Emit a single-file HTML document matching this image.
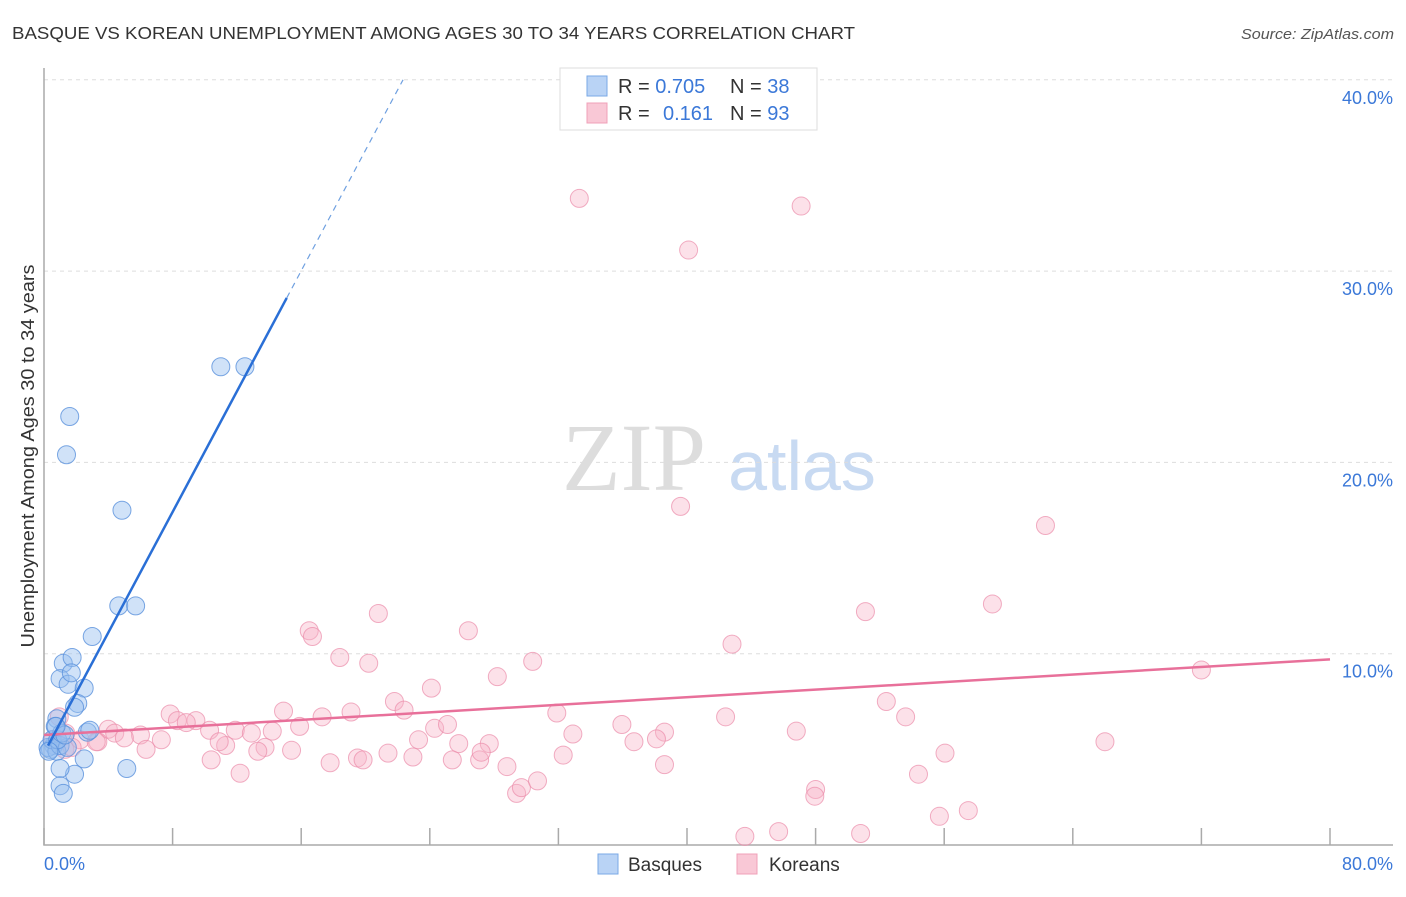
<!DOCTYPE html>
<html><head><meta charset="utf-8"><style>
body{margin:0;background:#fff;font-family:"Liberation Sans",sans-serif;}
</style></head><body>
<svg id="chart" width="1406" height="892" xmlns="http://www.w3.org/2000/svg" style="font-family:'Liberation Sans',sans-serif">
<text x="12" y="39" font-size="17.5" fill="#333" textLength="843" lengthAdjust="spacingAndGlyphs">BASQUE VS KOREAN UNEMPLOYMENT AMONG AGES 30 TO 34 YEARS CORRELATION CHART</text>
<text x="1394" y="39" font-size="15" fill="#555" font-style="italic" text-anchor="end" textLength="153" lengthAdjust="spacingAndGlyphs">Source: ZipAtlas.com</text>
<text transform="translate(34,456) rotate(-90)" font-size="18" fill="#333" text-anchor="middle" textLength="383" lengthAdjust="spacingAndGlyphs">Unemployment Among Ages 30 to 34 years</text>
<g><text x="634" y="490" font-size="96" font-family="'Liberation Serif',serif" fill="#ddd" text-anchor="middle">ZIP</text><text x="802" y="490" font-size="70" fill="#c8daf2" text-anchor="middle">atlas</text></g>
<g id="grid"></g><g id="axes"></g><g id="marks"></g>
<g>
<rect x="560" y="68" width="257" height="62" fill="#fff" stroke="#ddd"/>
<rect x="587" y="76" width="20" height="20" fill="#b9d3f5" stroke="#7aa8e6"/>
<rect x="587" y="103" width="20" height="20" fill="#f9c8d6" stroke="#f0a0b8"/>
<text x="618" y="93" font-size="20" fill="#333">R = <tspan fill="#3b78d8">0.705</tspan><tspan x="730">N = </tspan><tspan fill="#3b78d8">38</tspan></text>
<text x="618" y="120" font-size="20" fill="#333">R = <tspan x="663" fill="#3b78d8">0.161</tspan><tspan x="730">N = </tspan><tspan fill="#3b78d8">93</tspan></text>
</g>
<g>
<rect x="598" y="854" width="20" height="20" fill="#b9d3f5" stroke="#7aa8e6"/>
<text x="628" y="871" font-size="19" fill="#333">Basques</text>
<rect x="737" y="854" width="20" height="20" fill="#f9c8d6" stroke="#f0a0b8"/>
<text x="769" y="871" font-size="19" fill="#333">Koreans</text>
</g>
</svg>
<script>
const yTicks=[10,20,30,40];
const yTickLabels=["10.0%","20.0%","30.0%","40.0%"];
const xTicks=[0,8,16,24,32,40,48,56,64,72,80];
const basqueX=[11.0,12.5,1.6,1.4,4.85,4.65,5.7,3.0,1.2,1.75,1.0,1.5,2.5,1.7,2.1,1.9,0.8,0.7,2.7,2.85,0.6,0.4,0.25,0.8,0.5,1.0,1.45,2.5,1.9,5.15,1.0,1.0,1.2,0.85,1.1,1.3,0.3,0.75];
const basqueY=[25.0,25.0,22.4,20.4,17.5,12.5,12.5,10.9,9.5,9.8,8.7,8.4,8.2,9.0,7.4,7.2,6.6,6.2,5.9,6.0,5.2,5.0,5.1,4.9,5.5,5.2,5.1,4.5,3.7,4.0,4.0,3.1,2.7,5.5,5.85,5.75,4.9,6.2];
const koreanX=[33.3,40.1,47.1,39.6,62.3,59.0,51.1,20.8,16.5,16.7,26.4,42.8,18.4,20.2,30.4,72.0,28.2,24.1,21.8,22.4,31.9,42.4,52.4,53.6,14.9,17.3,19.1,7.85,8.3,9.45,8.85,10.3,11.9,12.9,14.2,15.9,24.3,25.1,35.95,38.6,46.8,32.9,27.7,25.8,23.3,13.75,11.3,10.9,7.3,6.0,4.0,4.4,5.0,6.35,3.35,2.25,1.35,0.85,1.3,10.4,12.2,13.3,15.4,17.8,19.5,19.85,21.4,22.95,25.4,27.1,27.2,28.8,29.4,29.7,30.7,32.3,36.7,38.1,38.6,43.6,45.7,48.0,47.95,50.8,54.4,55.7,57.5,56.05,66.0,0.95,0.55,1.75,3.25];
const koreanY=[33.8,31.1,33.4,17.7,16.7,12.6,12.2,12.1,11.2,10.9,11.2,10.5,9.8,9.5,9.6,9.15,8.8,8.2,7.5,7.05,6.9,6.7,7.5,6.7,7.0,6.7,6.95,6.85,6.5,6.5,6.4,6.0,6.0,5.85,5.95,6.2,6.1,6.3,6.3,5.9,5.95,5.8,5.3,5.3,5.5,5.1,5.2,5.4,5.5,5.75,6.05,5.85,5.6,5.0,5.4,5.5,5.85,5.5,5.0,4.45,3.75,4.9,4.95,4.3,4.55,4.45,4.8,4.6,4.45,4.45,4.85,4.1,2.7,3.0,3.35,4.7,5.4,5.55,4.2,0.45,0.7,2.9,2.55,0.6,3.7,1.5,1.8,4.8,5.4,6.7,5.5,5.1,5.4];
const basqueFit=[4.8,1.576];
const koreanFit=[5.75,0.0494];
const NS="http://www.w3.org/2000/svg";
const X=v=>44+v*16.075, Y=v=>845-v*19.13;
function mk(tag,attrs,parent){const e=document.createElementNS(NS,tag);for(const k in attrs)e.setAttribute(k,attrs[k]);parent.appendChild(e);return e;}
const grid=document.getElementById('grid'),axes=document.getElementById('axes'),marks=document.getElementById('marks');
yTicks.forEach((t,i)=>{
 const l=mk('line',{x1:44,x2:1393,y1:Y(t),y2:Y(t),stroke:'#ddd','stroke-dasharray':'4,4'},grid);
 
 
 const tx=mk('text',{x:1393,y:Y(t)+24,'font-size':18,fill:'#3b78d8','text-anchor':'end'},axes);tx.textContent=yTickLabels[i];
 
 
});
const ax=mk('path',{d:'M44,68V845H1393',stroke:'#aaa',fill:'none','stroke-width':1.5},axes);


xTicks.forEach(t=>{const l=mk('line',{x1:X(t),x2:X(t),y1:828,y2:845,stroke:'#aaa','stroke-width':1.5},axes);
 
 });
const x0=mk('text',{x:44,y:870,'font-size':18,fill:'#3b78d8'},axes);x0.textContent="0.0%";


const x1=mk('text',{x:1393,y:870,'font-size':18,fill:'#3b78d8','text-anchor':'end'},axes);x1.textContent="80.0%";


koreanX.forEach((v,i)=>{const c=mk('circle',{cx:X(v),cy:Y(koreanY[i]),r:9,fill:'rgba(248,180,200,0.4)',stroke:'rgba(235,140,170,0.7)'},marks);
 
 });
basqueX.forEach((v,i)=>{const c=mk('circle',{cx:X(v),cy:Y(basqueY[i]),r:9,fill:'rgba(150,190,240,0.45)',stroke:'rgba(90,145,220,0.8)'},marks);
 
 });
const kl=mk('line',{x1:X(0),y1:Y(koreanFit[0]),x2:X(80),y2:Y(koreanFit[0]+koreanFit[1]*80),stroke:'#e8709a','stroke-width':2.5},marks);


const bxEnd=15.1, bxMax=(40-basqueFit[0])/basqueFit[1];
const bl=mk('line',{x1:X(0.25),y1:Y(basqueFit[0]+basqueFit[1]*0.25),x2:X(bxEnd),y2:Y(basqueFit[0]+basqueFit[1]*bxEnd),stroke:'#2a6fd6','stroke-width':2.5},marks);


const bd=mk('line',{x1:X(bxEnd),y1:Y(basqueFit[0]+basqueFit[1]*bxEnd),x2:X(bxMax),y2:Y(40),stroke:'#6fa0e0','stroke-width':1.2,'stroke-dasharray':'6,5'},marks);


</script>
</body></html>
